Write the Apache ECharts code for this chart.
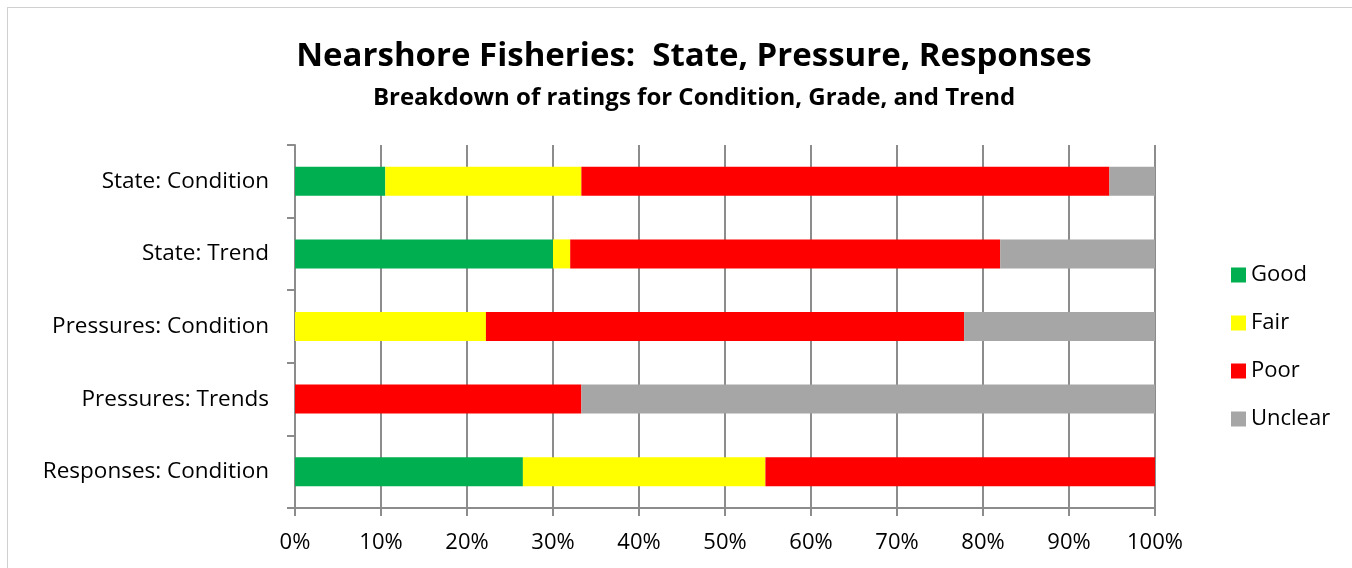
<!DOCTYPE html>
<html>
<head>
<meta charset="utf-8">
<script src="https://cdn.jsdelivr.net/npm/echarts@6/dist/echarts.min.js"></script>
<style>
  html, body { margin: 0; padding: 0; background: #fff; }
  #frame { position: absolute; left: 7px; top: 7px; width: 1360px; height: 580px; border: 1px solid #d0d0d0; box-sizing: border-box; }
  #container { position: absolute; left: 0; top: 0; width: 1352px; height: 568px; }
</style>
</head>
<body>
<div id="frame"></div>
<div id="container"></div>
<script>
// chart data
var categories = ["State: Condition", "State: Trend", "Pressures: Condition", "Pressures: Trends", "Responses: Condition"];
var good = [10.5, 30, 0, 0, 26.5];
var fair = [22.8, 2, 22.2, 0, 28.2];
var poor = [61.4, 50, 55.6, 33.3, 45.3];
var unclear = [5.3, 18, 22.2, 66.7, 0];
var seriesNames = ["Good", "Fair", "Poor", "Unclear"];
var colors = ["#00B050", "#FFFF00", "#FF0000", "#A6A6A6"];

var font = "'Open Sans', sans-serif";
var dom = document.getElementById("container");
var myChart = echarts.init(dom);

function bar(name, data, color) {
  return {
    name: name,
    type: "bar",
    stack: "total",
    barWidth: 29,
    data: data,
    itemStyle: { color: color },
  };
}

var option = {
  animation: false,
  color: colors,
  title: {
    text: "Nearshore Fisheries:  State, Pressure, Responses",
    subtext: "Breakdown of ratings for Condition, Grade, and Trend",
    left: 689,
    textAlign: "center",
    top: 35,
    itemGap: 13,
    textStyle: { fontFamily: font, fontSize: 33, fontWeight: "bold", color: "#000" },
    subtextStyle: { fontFamily: font, fontSize: 24, fontWeight: "bold", color: "#000" },
  },
  legend: {
    orient: "vertical",
    left: 1226,
    top: 259,
    itemWidth: 15,
    itemHeight: 15,
    itemGap: 26,
    icon: "rect",
    data: seriesNames,
    textStyle: { fontFamily: font, fontSize: 22, color: "#000" },
  },
  grid: { left: 295, right: 197, top: 145, bottom: 60 },
  xAxis: {
    type: "value",
    min: 0,
    max: 100,
    interval: 10,
    axisLine: { show: true, lineStyle: { color: "#8c8c8c", width: 2 } },
    axisTick: { show: true, length: 8, lineStyle: { color: "#8c8c8c", width: 2 } },
    splitLine: { show: true, lineStyle: { color: "#8c8c8c", width: 2 } },
    axisLabel: { formatter: "{value}%", margin: 24, fontFamily: font, fontSize: 22, color: "#000" },
  },
  yAxis: {
    type: "category",
    inverse: true,
    data: categories,
    axisLine: { show: true, lineStyle: { color: "#8c8c8c", width: 2 } },
    axisTick: { show: true, length: 8, lineStyle: { color: "#8c8c8c", width: 2 } },
    axisLabel: { margin: 26, fontFamily: font, fontSize: 22.5, color: "#000" },
  },
  series: [
    bar(seriesNames[0], good, colors[0]),
    bar(seriesNames[1], fair, colors[1]),
    bar(seriesNames[2], poor, colors[2]),
    bar(seriesNames[3], unclear, colors[3]),
  ],
};
myChart.setOption(option, true);
</script>
</body>
</html>
